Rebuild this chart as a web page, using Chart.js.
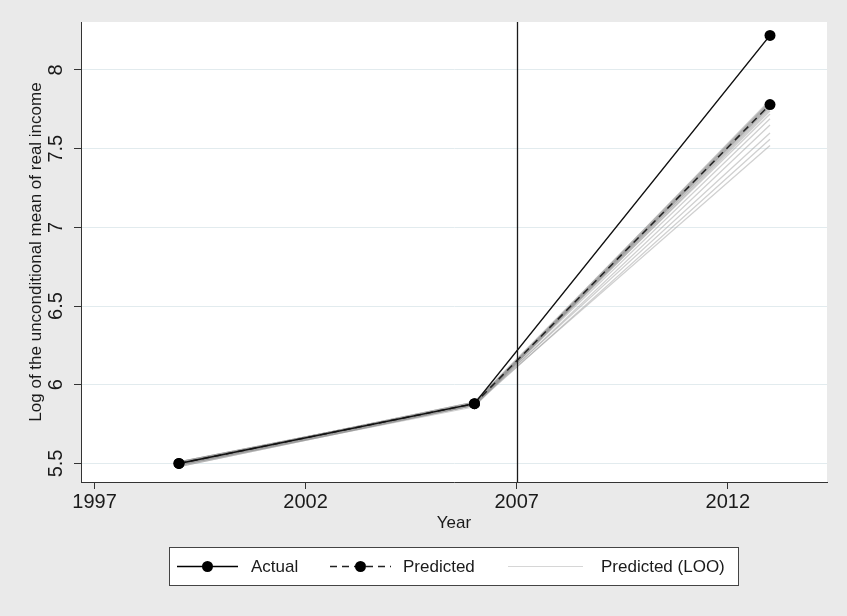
<!DOCTYPE html>
<html>
<head>
<meta charset="utf-8">
<script src="https://cdn.jsdelivr.net/npm/chart.js@4.4.1/dist/chart.umd.min.js"></script>
<style>
  html, body { margin: 0; padding: 0; background: #eaeaea; }
  #income-chart { display: block; }
</style>
</head>
<body>
<canvas id="income-chart" width="847" height="616"></canvas>
<script>
// Survey years and the log mean real income per year
const years = [1999, 2006, 2013];
const actual = [5.50, 5.88, 8.22];
const predicted = [5.50, 5.88, 7.78];

// Leave-one-out predictions, one entry per excluded unit
const loo1999 = [5.51, 5.49, 5.50, 5.48, 5.51, 5.50, 5.49, 5.50, 5.51, 5.49, 5.50, 5.48, 5.50, 5.49, 5.51, 5.50, 5.49, 5.50];
const loo2006 = [5.88, 5.87, 5.89, 5.87, 5.88, 5.88, 5.86, 5.89, 5.88, 5.87, 5.88, 5.87, 5.89, 5.88, 5.87, 5.88, 5.87, 5.88];
const loo2013 = [7.81, 7.80, 7.80, 7.79, 7.79, 7.78, 7.78, 7.77, 7.77, 7.76, 7.75, 7.74, 7.72, 7.69, 7.65, 7.60, 7.56, 7.52];

const xTicks = [1997, 2002, 2007, 2012];
const yTicks = [5.5, 6, 6.5, 7, 7.5, 8];
const treatmentYear = 2007;

const FONT = "'Liberation Sans', Arial, Helvetica, sans-serif";
const INK = '#1a1a1a';

function toPoints(ys) {
    return years.map((yr, i) => ({ x: yr, y: ys[i] }));
}

const looDatasets = loo1999.map((v, i) => ({
    label: 'Predicted (LOO)',
    data: toPoints([v, loo2006[i], loo2013[i]]),
    borderColor: 'rgba(150,150,150,0.45)',
    borderWidth: 1.3,
    pointRadius: 0,
    tension: 0,
}));

// Grey page, white plot region
const backgroundPlugin = {
    id: 'background',
    beforeDraw(chart) {
        const { ctx, chartArea } = chart;
        ctx.save();
        ctx.fillStyle = '#eaeaea';
        ctx.fillRect(0, 0, chart.width, chart.height);
        ctx.fillStyle = '#ffffff';
        ctx.fillRect(chartArea.left, chartArea.top, chartArea.right - chartArea.left, chartArea.bottom - chartArea.top);
        ctx.restore();
    }
};

// Vertical reference line at the treatment year
const xlinePlugin = {
    id: 'xline',
    afterDatasetsDraw(chart) {
        const { ctx, chartArea, scales } = chart;
        const px = Math.round(scales.x.getPixelForValue(treatmentYear)) + 0.5;
        ctx.save();
        ctx.strokeStyle = INK;
        ctx.lineWidth = 1.3;
        ctx.beginPath();
        ctx.moveTo(px, chartArea.top);
        ctx.lineTo(px, chartArea.bottom);
        ctx.stroke();
        ctx.restore();
    }
};

// Boxed legend under the axis, Stata style
const legendPlugin = {
    id: 'boxLegend',
    afterDraw(chart) {
        const { ctx } = chart;
        const box = { left: 169.5, top: 547.5, width: 569, height: 38 };
        const cy = box.top + box.height / 2;
        const items = [
            { label: 'Actual', x0: 177, x1: 238, tx: 251, dash: [], color: '#000', width: 1.5, marker: true },
            { label: 'Predicted', x0: 330, x1: 391, tx: 403, dash: [7, 5], color: '#222', width: 1.5, marker: true },
            { label: 'Predicted (LOO)', x0: 508, x1: 583, tx: 601, dash: [], color: '#d6d6d6', width: 1, marker: false },
        ];
        ctx.save();
        ctx.fillStyle = '#fff';
        ctx.fillRect(box.left, box.top, box.width, box.height);
        ctx.strokeStyle = '#444';
        ctx.lineWidth = 1;
        ctx.strokeRect(box.left, box.top, box.width, box.height);

        items.forEach(it => {
            ctx.strokeStyle = it.color;
            ctx.lineWidth = it.width;
            ctx.setLineDash(it.dash);
            ctx.beginPath();
            ctx.moveTo(it.x0, cy);
            ctx.lineTo(it.x1, cy);
            ctx.stroke();
            ctx.setLineDash([]);
            if (it.marker) {
                ctx.fillStyle = '#000';
                ctx.beginPath();
                ctx.arc((it.x0 + it.x1) / 2, cy, 5.5, 0, Math.PI * 2);
                ctx.fill();
            }
            ctx.fillStyle = INK;
            ctx.font = '17px ' + FONT;
            ctx.textAlign = 'left';
            ctx.textBaseline = 'middle';
            ctx.fillText(it.label, it.tx, cy + 1);
        });
        ctx.restore();
    }
};

const ctx = document.getElementById('income-chart').getContext('2d');

new Chart(ctx, {
    type: 'line',
    data: {
        datasets: [
            {
                label: 'Actual',
                data: toPoints(actual),
                borderColor: '#111',
                backgroundColor: '#000',
                borderWidth: 1.5,
                pointRadius: 5.5,
                pointBackgroundColor: '#000',
                pointBorderWidth: 0,
                tension: 0,
            },
            {
                label: 'Predicted',
                data: toPoints(predicted),
                borderColor: '#222',
                backgroundColor: '#000',
                borderWidth: 1.5,
                borderDash: [7, 5],
                pointRadius: 5.5,
                pointBackgroundColor: '#000',
                pointBorderWidth: 0,
                tension: 0,
            },
            ...looDatasets
        ]
    },
    options: {
        responsive: false,
        animation: false,
        layout: {
            padding: { top: 22, right: 20, bottom: 70, left: 0 }
        },
        scales: {
            x: {
                type: 'linear',
                min: 1996.68,
                max: 2014.35,
                afterBuildTicks(scale) {
                    scale.ticks = xTicks.map(v => ({ value: v }));
                },
                afterFit(scale) {
                    scale.height = 64;
                },
                ticks: {
                    color: INK,
                    font: { family: FONT, size: 20 },
                    padding: 1,
                    callback: v => String(v),
                },
                grid: {
                    drawOnChartArea: false,
                    drawTicks: true,
                    tickLength: 7,
                    tickColor: '#333',
                },
                border: { color: '#333', width: 1 },
                title: {
                    display: true,
                    text: 'Year',
                    color: INK,
                    font: { family: FONT, size: 17 },
                    padding: { top: 0, bottom: 12 },
                }
            },
            y: {
                min: 5.382,
                max: 8.305,
                afterBuildTicks(scale) {
                    scale.ticks = yTicks.map(v => ({ value: v }));
                },
                afterFit(scale) {
                    scale.width = 81;
                },
                ticks: {
                    color: INK,
                    font: { family: FONT, size: 20 },
                    minRotation: 90,
                    maxRotation: 90,
                    crossAlign: 'center',
                    padding: 4,
                    callback: v => String(v),
                },
                grid: {
                    color: '#e2ebee',
                    drawTicks: true,
                    tickLength: 7,
                    tickColor: '#333',
                },
                border: { color: '#333', width: 1 },
                title: {
                    display: true,
                    text: 'Log of the unconditional mean of real income',
                    color: INK,
                    font: { family: FONT, size: 17 },
                    padding: { top: 26, bottom: 0 },
                }
            }
        },
        plugins: {
            legend: { display: false },
            tooltip: { enabled: false },
        }
    },
    plugins: [backgroundPlugin, xlinePlugin, legendPlugin]
});
</script>
</body>
</html>
